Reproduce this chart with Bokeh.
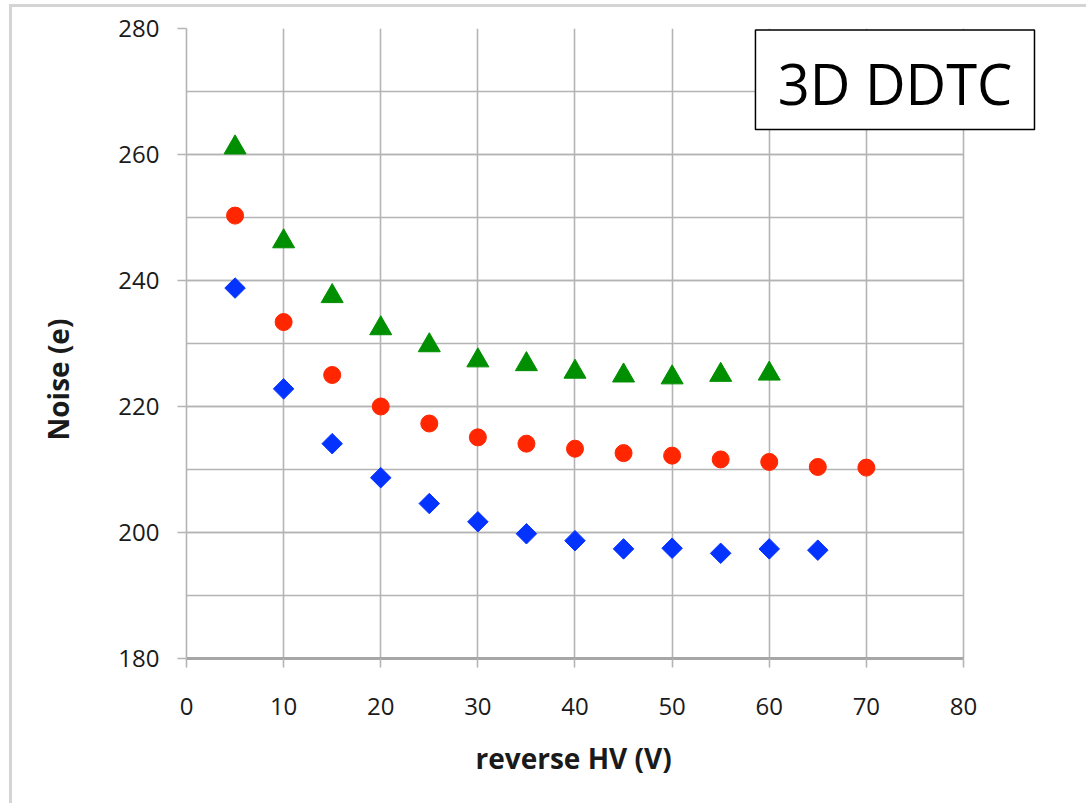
from bokeh.plotting import figure
from bokeh.models import Range1d, SingleIntervalTicker, Label, BoxAnnotation, Title
from bokeh.embed import file_html
from bokeh.resources import INLINE
import math

# ---- data ----
hv_green = [5, 10, 15, 20, 25, 30, 35, 40, 45, 50, 55, 60]
noise_green = [261.1, 246.2, 237.5, 232.4, 229.7, 227.3, 226.7, 225.5, 224.9, 224.6, 225.0, 225.2]

hv_red = [5, 10, 15, 20, 25, 30, 35, 40, 45, 50, 55, 60, 65, 70]
noise_red = [250.3, 233.4, 225.0, 220.0, 217.3, 215.1, 214.1, 213.3, 212.6, 212.2, 211.6, 211.2, 210.4, 210.3]

hv_blue = [5, 10, 15, 20, 25, 30, 35, 40, 45, 50, 55, 60, 65]
noise_blue = [238.8, 222.8, 214.1, 208.7, 204.6, 201.7, 199.8, 198.7, 197.4, 197.5, 196.7, 197.4, 197.2]

x_title = "reverse HV (V)"
y_title = "Noise (e)"
box_text = "3D DDTC"

FONT = "Open Sans"
GRID = "#b4b4b4"
EDGE = "#d4d4d4"
X_MIN, X_MAX = 0, 80
X_FRAME_END = 87.62          # frame continues to the right so the text box fits

p = figure(width=1086, height=803, output_backend="svg", toolbar_location=None,
           x_range=Range1d(X_MIN, X_FRAME_END), y_range=Range1d(180, 280),
           min_border_left=186, min_border_right=49, min_border_top=28,
           min_border_bottom=145)
# light grey chart-area edge (left and top) painted behind a transparent border area
p.styles = {"background": (f"linear-gradient({EDGE},{EDGE}) 9px 4px / 3px calc(100% - 4px) no-repeat, "
                           f"linear-gradient({EDGE},{EDGE}) 9px 4px / calc(100% - 9px) 3px no-repeat, "
                           "white")}
p.border_fill_color = None
p.outline_line_color = None
p.background_fill_color = "white"

# axes
p.xaxis.ticker = SingleIntervalTicker(interval=10, num_minor_ticks=0)
p.yaxis.ticker = SingleIntervalTicker(interval=20, num_minor_ticks=2)
p.xaxis.bounds = (X_MIN, X_MAX)

for ax in (p.xaxis[0], p.yaxis[0]):
    ax.major_label_text_font = FONT
    ax.major_label_text_font_size = "24px"
    ax.major_label_text_color = "#1a1a1a"
    ax.major_tick_line_color = GRID
    ax.major_tick_line_width = 1.6
    ax.minor_tick_line_color = None
    ax.major_tick_in = 0
    ax.major_tick_out = 9

p.xaxis.axis_line_color = "#a6a6a6"
p.xaxis.axis_line_width = 3
p.yaxis.axis_line_color = GRID
p.yaxis.axis_line_width = 1.6
p.xaxis.major_label_standoff = 30
p.yaxis.major_label_standoff = 18

p.xgrid.grid_line_color = GRID
p.xgrid.grid_line_width = 1.6
p.ygrid.grid_line_color = GRID
p.ygrid.grid_line_width = 1.6
p.ygrid.minor_grid_line_color = GRID
p.ygrid.minor_grid_line_width = 1.6
p.ygrid.cross_bounds = (X_MIN, X_MAX)

# axis titles
p.add_layout(Title(text=y_title, align="left", offset=218, text_font=FONT,
                   text_font_size="28px", text_font_style="bold",
                   text_color="#1a1a1a", standoff=74, vertical_align="top"), "left")
p.add_layout(Title(text=x_title, align="left", offset=289, text_font=FONT,
                   text_font_size="28px", text_font_style="bold",
                   text_color="#1a1a1a", standoff=38), "below")

# markers
p.scatter(hv_green, noise_green, marker="triangle", size=22,
          fill_color="#008f00", line_color="#008f00")
p.scatter(hv_red, noise_red, marker="circle", size=17,
          fill_color="#ff2600", line_color="#ff2600")
p.scatter(hv_blue, noise_blue, marker="square", size=14.5, angle=math.pi / 4,
          fill_color="#0433ff", line_color="#0433ff")

# "3D DDTC" text box
p.add_layout(BoxAnnotation(left=58.58, right=87.31, bottom=263.97, top=279.75,
                           fill_color="white", fill_alpha=1.0,
                           line_color="black", line_alpha=1.0, line_width=1.5,
                           level="annotation"))
p.add_layout(Label(x=72.95, y=271.3, text=box_text, text_align="center",
                   text_baseline="alphabetic", text_font=FONT,
                   text_font_size="56px", text_color="black", level="overlay"))

open("out.html", "w").write(file_html(p, INLINE))
